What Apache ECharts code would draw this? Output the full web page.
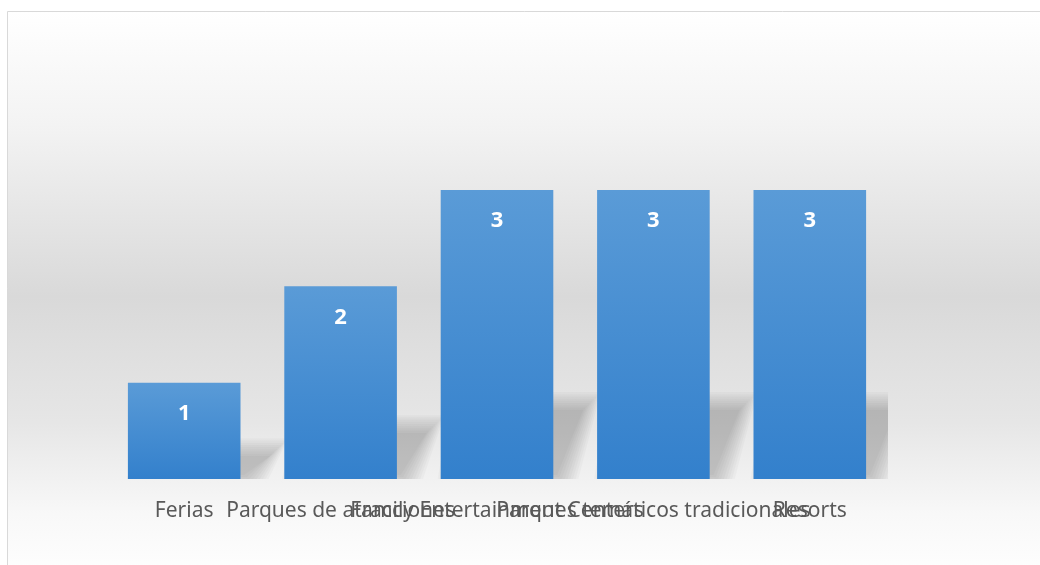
<!DOCTYPE html>
<html>
<head>
<meta charset="utf-8">
<script src="https://cdn.jsdelivr.net/npm/echarts@6/dist/echarts.min.js"></script>
<style>
  html, body { margin: 0; padding: 0; background: #fff; }
  #chart { width: 1040px; height: 565px; }
</style>
</head>
<body>
<div id="chart"></div>
<script>
const categories = ["Ferias", "Parques de atracciones", "Family Entertainment Centers", "Parques temáticos tradicionales", "Resorts"];
const values = [1, 2, 3, 3, 3];

const chart = echarts.init(document.getElementById("chart"));

// sombra en perspectiva detrás de cada barra (difuminada a mano con capas)
function renderShadow(params, api) {
  const idx = api.value(0);
  const v = api.value(1);
  const base = api.coord([idx, 0]);
  const top = api.coord([idx, v]);
  const w = api.size([1, 0])[0] * 0.72;
  const h = base[1] - top[1];
  const x0 = base[0] - w / 2;
  const x1 = base[0] + w / 2;
  const yb = base[1] - 4;
  const yt = base[1] - h * 0.24;
  const dx = 30;
  const layers = [];
  for (let k = 0; k < 9; k++) {
    const e = k * 2.2;
    layers.push({
      type: "polygon",
      shape: {
        points: [
          [x0 + 12 - e, yb + e],
          [x1 + 4 + e, yb + e],
          [x1 + dx + e, yt - e],
          [x0 + dx - e, yt - e]
        ]
      },
      style: { fill: "rgba(0,0,0,0.024)" }
    });
  }
  return { type: "group", children: layers };
}

chart.setOption({
  backgroundColor: "#fff",
  animation: false,
  graphic: [{
    type: "rect",
    z: -10,
    silent: true,
    shape: { x: 7.5, y: 11.5, width: 1040, height: 570 },
    style: {
      stroke: "#d9d9d9",
      lineWidth: 1,
      fill: new echarts.graphic.LinearGradient(0, 0, 0, 1, [
        { offset: 0, color: "#ffffff" },
        { offset: 0.2, color: "#f3f3f3" },
        { offset: 0.5, color: "#d9d9d9" },
        { offset: 0.72, color: "#e6e6e6" },
        { offset: 0.88, color: "#f8f8f8" },
        { offset: 1, color: "#ffffff" }
      ])
    }
  }],
  grid: { left: 106, right: 152, top: 190, bottom: 86 },
  xAxis: {
    type: "category",
    data: categories,
    axisLine: { show: false },
    axisTick: { show: false },
    axisLabel: {
      interval: 0,
      hideOverlap: false,
      margin: 22,
      color: "#595959",
      fontSize: 21,
      fontFamily: "Noto Sans"
    }
  },
  yAxis: {
    type: "value",
    min: 0,
    max: 3,
    show: false,
    splitLine: { show: false }
  },
  series: [
    {
      type: "custom",
      renderItem: renderShadow,
      data: values.map((v, i) => [i, v]),
      clip: true,
      z: 1,
      silent: true
    },
    {
      type: "bar",
      data: values,
      barCategoryGap: "28%",
      z: 2,
      itemStyle: {
        color: new echarts.graphic.LinearGradient(0, 0, 0, 1, [
          { offset: 0, color: "#5a9bd7" },
          { offset: 1, color: "#3380cc" }
        ])
      },
      label: {
        show: true,
        position: "insideTop",
        distance: 20,
        color: "#fff",
        fontSize: 22,
        fontWeight: "bold",
        fontFamily: "Noto Sans"
      }
    }
  ]
});
</script>
</body>
</html>
